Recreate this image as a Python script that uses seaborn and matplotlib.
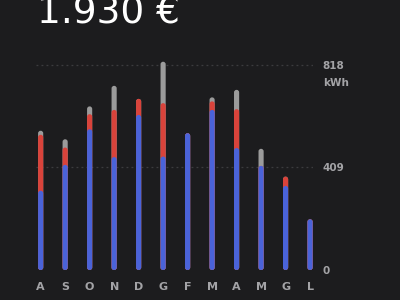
import numpy as np
import pandas as pd
import matplotlib
matplotlib.use("Agg")
import matplotlib.pyplot as plt
import seaborn as sns
from matplotlib.patches import FancyBboxPatch

months = ["A", "S", "O", "N", "D", "G", "F", "M", "A", "M", "G", "L"]
blue_vals = [316, 419, 561, 450, 618, 452, 545, 638, 486, 415, 335, 202]
red_vals = [223, 69, 60, 188, 64, 213, 0, 34, 155, 0, 37, 0]
gray_vals = [16, 33, 31, 96, 0, 165, 0, 16, 77, 68, 0, 0]
ytick_vals = [0, 409, 818]
title_text = "1.930 €"
unit_text = "kWh"

BG = "#1c1c1e"
BLUE = "#4a63d9"
RED = "#d9433b"
GRAY = "#9b9b9b"
TXT = "#a3a3a6"
GRID = "#3c3c3f"

sns.set_theme(style="dark")
plt.rcParams["font.family"] = ["DejaVu Sans"]

idx = list(range(len(months)))
blue = np.array(blue_vals)
red_top = blue + np.array(red_vals)
total = red_top + np.array(gray_vals)

df = pd.DataFrame({"i": idx, "blue": blue, "red": red_top, "total": total})

fig = plt.figure(figsize=(4, 3), dpi=100, facecolor=BG)
ax = fig.add_axes([36 / 400, 0.1, (313 - 36) / 400, 0.8193 - 0.1])
ax.set_facecolor(BG)

bw = 0.21
for col, c in [("total", GRAY), ("red", RED), ("blue", BLUE)]:
    sns.barplot(data=df, x="i", y=col, color=c, width=bw, ax=ax,
                saturation=1, linewidth=0, zorder=3)

ax.set_xlim(-0.19 - 0.0, 11.12)
ax.set_ylim(0, 860)

# round the bars
yr = 860 / ((0.8193 - 0.1) * 300)
xr = (11.12 + 0.19) / ((313 - 36))
patches = list(ax.patches)
for p in patches:
    x0, y0 = p.get_x(), p.get_y()
    w, h = p.get_width(), p.get_height()
    if h <= 0:
        p.remove()
        continue
    fc = p.get_facecolor()
    p.remove()
    r = w / 2
    fb = FancyBboxPatch((x0, y0), w, h,
                        boxstyle=f"round,pad=0,rounding_size={r}",
                        mutation_aspect=yr / xr, facecolor=fc,
                        edgecolor="none", zorder=3)
    ax.add_patch(fb)

for v in ytick_vals[1:]:
    ax.axhline(v, color=GRID, lw=0.9, ls=(0, (1.5, 2.5)), zorder=1)

ax.grid(False)
for s in ax.spines.values():
    s.set_visible(False)

ax.set_xticks(idx)
ax.set_xticklabels(months, color=TXT, fontsize=8, fontweight="semibold")
ax.yaxis.tick_right()
ax.set_yticks(ytick_vals)
ax.set_yticklabels([str(v) for v in ytick_vals], color=TXT, fontsize=7.5,
                   fontweight="semibold")
ax.tick_params(axis="y", length=0, pad=7)
ax.tick_params(axis="x", length=0, pad=9)
ax.set_xlabel("")
ax.set_ylabel("")
for lab in ax.get_yticklabels():
    lab.set_horizontalalignment("left")

ax.annotate(unit_text, xy=(1, 818), xycoords=("axes fraction", "data"),
            xytext=(7, -13), textcoords="offset points", color=TXT,
            fontsize=7.5, fontweight="semibold", ha="left", va="center")

fig.text(37 / 400, 1 - 23 / 300, title_text, color="white", fontsize=27,
         ha="left", va="baseline")

fig.savefig("out.png", dpi=100, facecolor=BG)
